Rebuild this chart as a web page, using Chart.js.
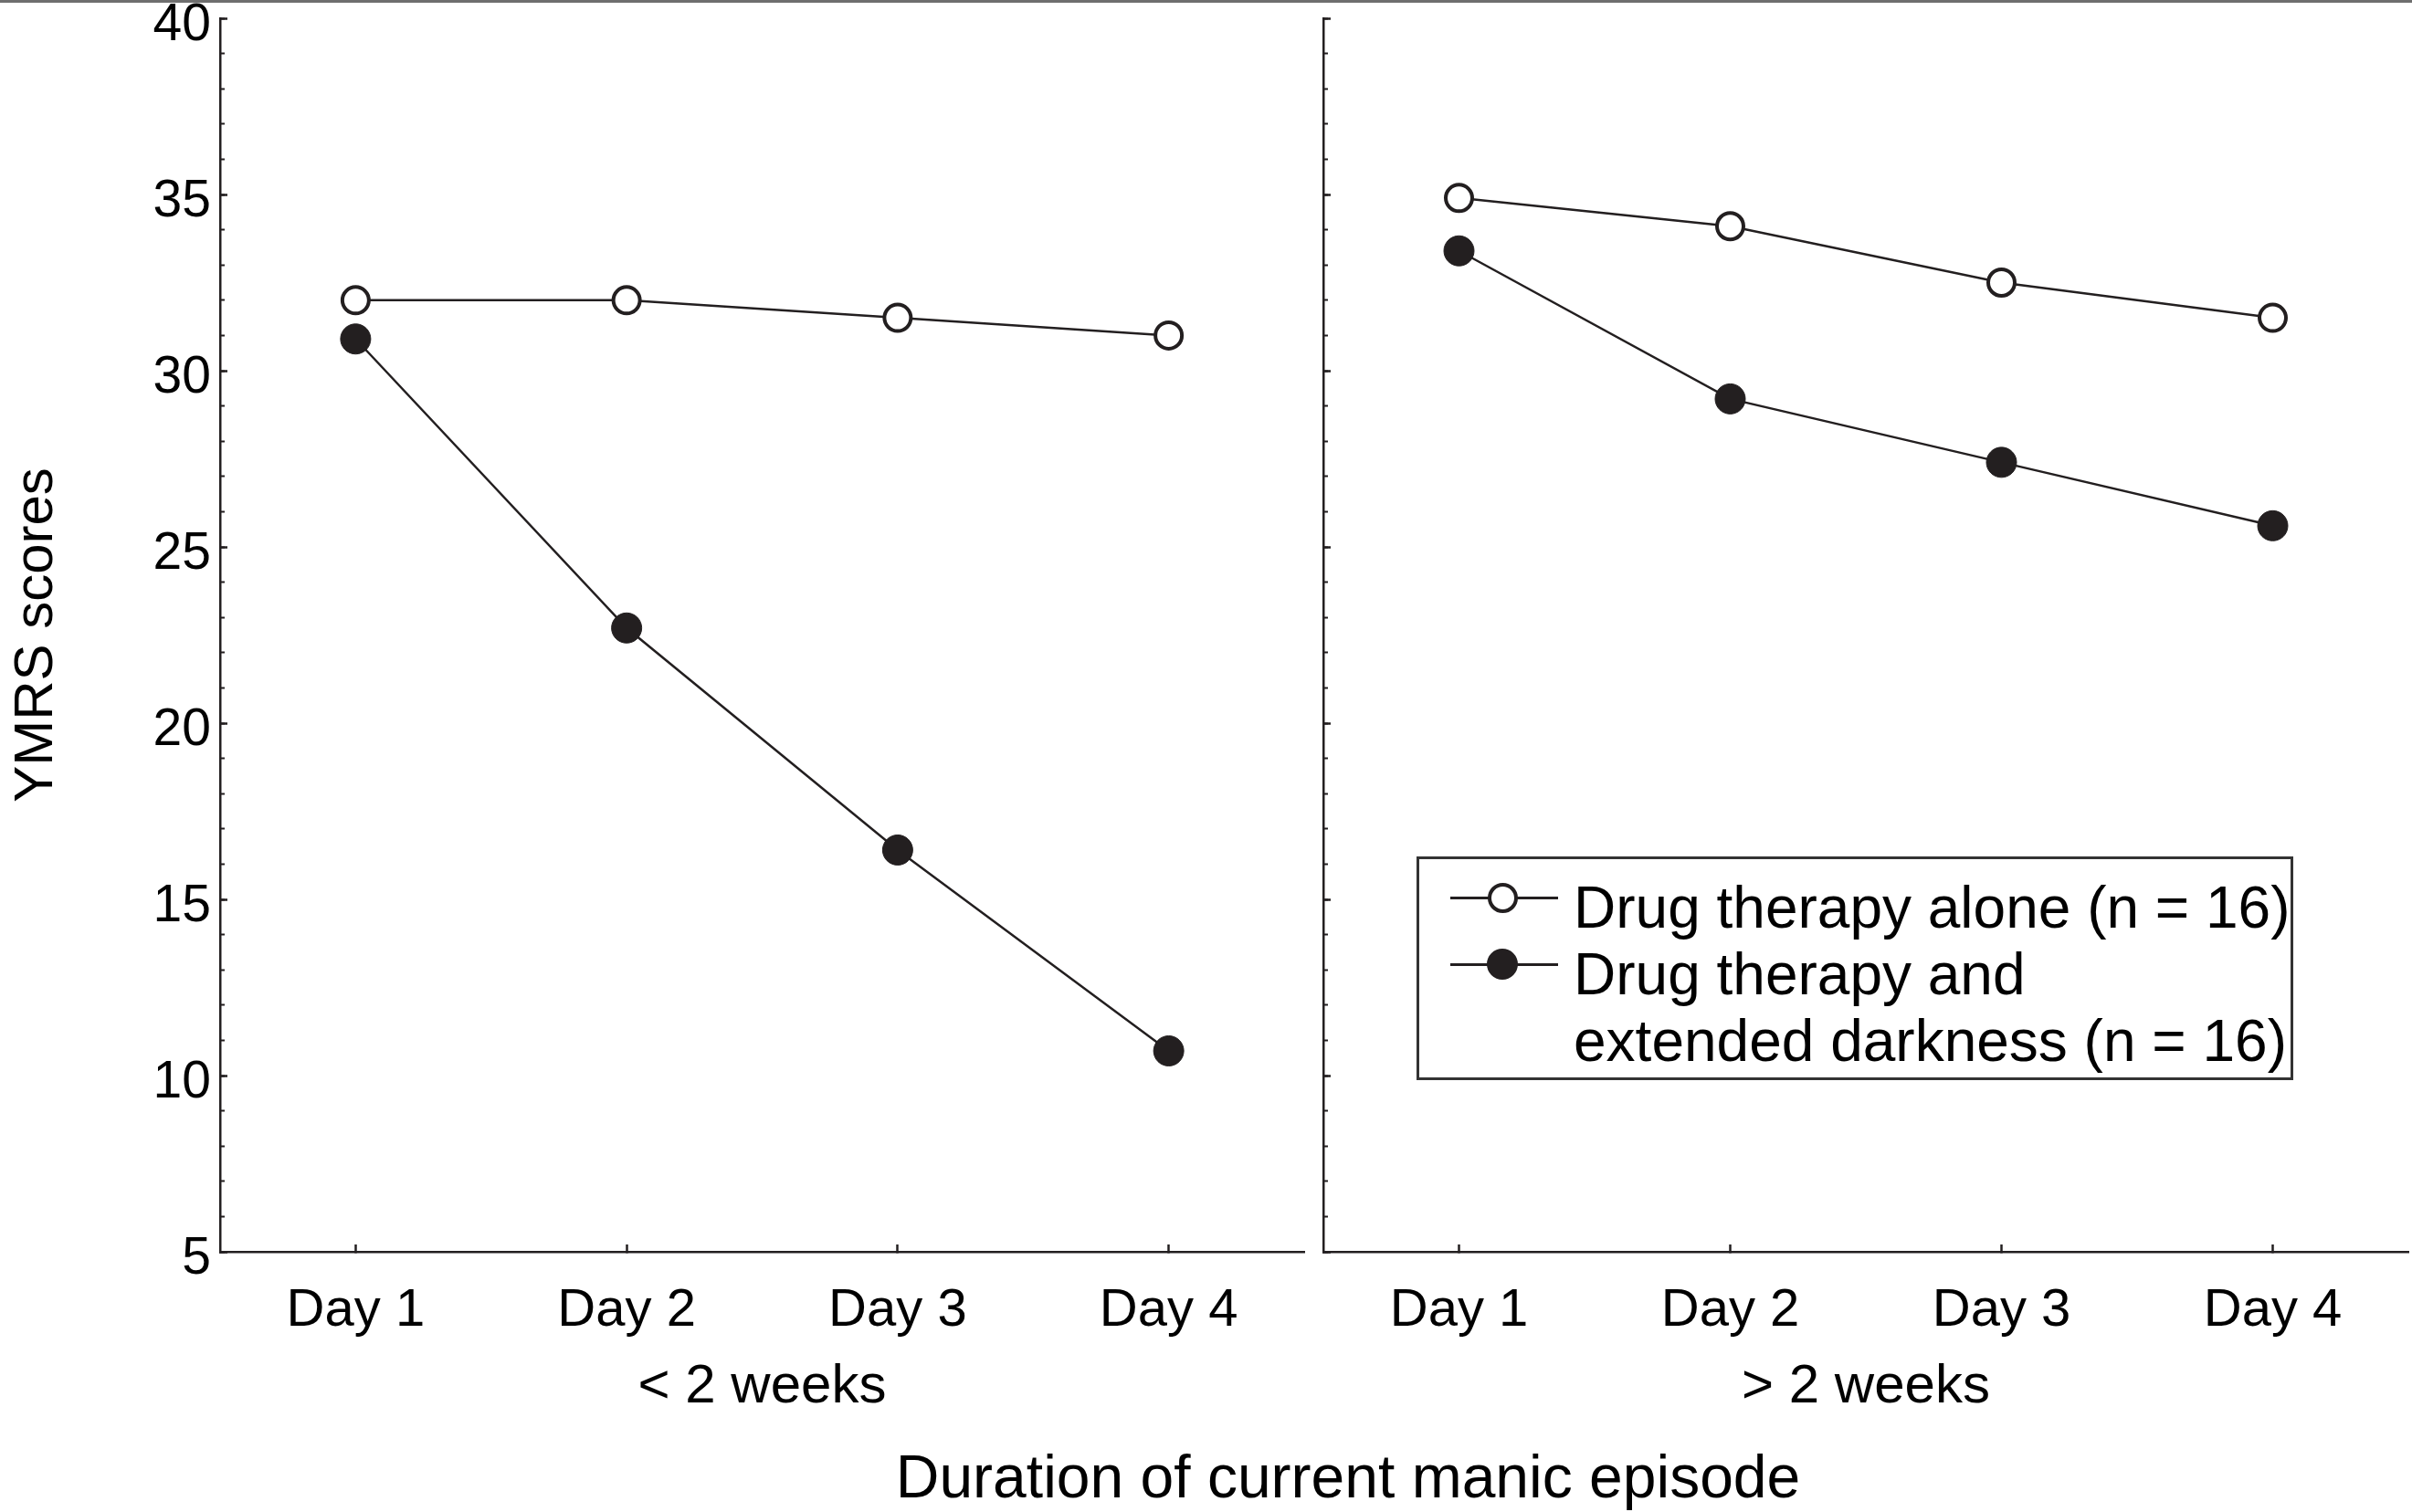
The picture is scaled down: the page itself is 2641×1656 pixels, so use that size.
<!DOCTYPE html>
<html>
<head>
<meta charset="utf-8">
<script src="https://cdn.jsdelivr.net/npm/chart.js@4.4.1/dist/chart.umd.min.js"></script>
<style>
  html, body { margin: 0; padding: 0; background: #fff; }
  body { width: 2641px; height: 1656px; position: relative; overflow: hidden;
         font-family: "Liberation Sans", Arial, Helvetica, sans-serif; color: #000; }
  #topRule { position: absolute; left: 0; top: 0; width: 2641px; height: 3px; background: #6e6e6e; }
  canvas { position: absolute; top: 0; }
  #leftCanvas { left: 0; }
  #rightCanvas { left: 1431px; }
  #xTitle { position: absolute; left: 676px; width: 1600px; top: 1577px; height: 80px;
            line-height: 80px; font-size: 66px; text-align: center; white-space: nowrap; }
  #legend { position: absolute; left: 1551px; top: 938px; width: 960px; height: 245px;
            box-sizing: border-box; border: 3px solid #333; background: #fff; }
  .legText { position: absolute; left: 169px; font-size: 64px; line-height: 73px; white-space: nowrap; }
  .legLine { position: absolute; left: 34px; width: 118px; height: 3px; background: #231f20; }
  .legDot { position: absolute; box-sizing: border-box; border-radius: 50%; }
</style>
</head>
<body>
<div id="topRule"></div>
<canvas id="leftCanvas" width="1441" height="1656"></canvas>
<canvas id="rightCanvas" width="1210" height="1656"></canvas>
<div id="xTitle"></div>
<div id="legend"></div>
<script>
// values
const days = ["Day 1", "Day 2", "Day 3", "Day 4"];
const groups = ["< 2 weeks", "> 2 weeks"];
const shortAlone = [32.0, 32.0, 31.5, 31.0];
const shortDark = [30.9, 22.7, 16.4, 10.7];
const longAlone = [34.9, 34.1, 32.5, 31.5];
const longDark = [33.4, 29.2, 27.4, 25.6];
const seriesNames = [["Drug therapy alone (n = 16)"], ["Drug therapy and", "extended darkness (n = 16)"]];
const yMin = 5;
const yMax = 40;
const yMajorStep = 5;
const yMinorStep = 1;
const yTitle = "YMRS scores";
const xTitle = "Duration of current manic episode";

const ink = "#231f20";
const fontFamily = '"Liberation Sans", Arial, Helvetica, sans-serif';
const canvasH = 1656;
const axisBottom = 1371;

function lineSet(label, values, filled) {
  return {
    label,
    data: values,
    borderColor: ink,
    borderWidth: 2.5,
    tension: 0,
    pointRadius: filled ? 16.5 : 14.5,
    pointHoverRadius: filled ? 16.5 : 14.5,
    pointBorderWidth: filled ? 1 : 4,
    pointBackgroundColor: filled ? ink : "#fff",
    pointBorderColor: ink,
  };
}

function makeChart(canvasId, alone, dark, group, opts) {
  const ctx = document.getElementById(canvasId).getContext("2d");
  return new Chart(ctx, {
    type: "line",
    data: {
      labels: days,
      datasets: [
        lineSet(seriesNames[0].join(" "), alone, false),
        lineSet(seriesNames[1].join(" "), dark, true),
      ],
    },
    options: {
      responsive: false,
      devicePixelRatio: 1,
      animation: false,
      events: [],
      layout: { autoPadding: false, padding: { left: 0, top: 20, right: opts.padRight, bottom: 0 } },
      plugins: { legend: { display: false }, tooltip: { enabled: false } },
      scales: {
        x: {
          type: "category",
          offset: true,
          grid: { drawOnChartArea: false, drawTicks: true, tickLength: -8, tickWidth: 2.5, tickColor: ink, offset: false },
          border: { display: true, color: ink, width: 2.5 },
          ticks: { color: "#000", padding: 38, font: { family: fontFamily, size: 58 }, maxRotation: 0 },
          title: { display: true, text: group, color: "#000", font: { family: fontFamily, size: 60 }, padding: { top: 0, bottom: 101 } },
          afterFit: (s) => { s.height = canvasH - axisBottom; s.paddingLeft = 0; s.paddingRight = 0; },
        },
        y: {
          position: "left",
          weight: 2,
          min: yMin,
          max: yMax,
          grid: { drawOnChartArea: false, drawTicks: true, tickLength: -8, tickWidth: 2.5, tickColor: ink },
          border: { display: true, color: ink, width: 2.5 },
          ticks: {
            display: opts.showLabels,
            stepSize: yMajorStep,
            color: "#000",
            padding: 18,
            labelOffset: 8,
            font: { family: fontFamily, size: 57 },
          },
          title: {
            display: opts.showLabels,
            text: yTitle,
            color: "#000",
            font: { family: fontFamily, size: 60 },
            padding: { top: 4, bottom: 0 },
          },
          afterFit: (s) => { s.width = opts.yWidth; s.paddingTop = 0; s.paddingBottom = 0; },
        },
        yMinor: {
          position: "left",
          weight: 1,
          min: yMin,
          max: yMax,
          grid: { drawOnChartArea: false, drawTicks: true, tickLength: -5, tickWidth: 2, tickColor: ink },
          border: { display: false },
          ticks: { display: false, stepSize: yMinorStep },
          afterFit: (s) => { s.width = 0; s.paddingTop = 0; s.paddingBottom = 0; },
        },
      },
    },
  });
}

makeChart("leftCanvas", shortAlone, shortDark, groups[0], { showLabels: true, yWidth: 241, padRight: 13 });
makeChart("rightCanvas", longAlone, longDark, groups[1], { showLabels: false, yWidth: 18, padRight: 4 });

document.getElementById("xTitle").textContent = xTitle;

// legend
const legend = document.getElementById("legend");
let row = 0;
seriesNames.forEach((lines, idx) => {
  const symY = 42 + idx * 73;
  const line = document.createElement("div");
  line.className = "legLine";
  line.style.top = (symY - 1.5) + "px";
  legend.appendChild(line);
  const dot = document.createElement("div");
  dot.className = "legDot";
  const r = idx === 0 ? 16.5 : 17;
  dot.style.left = (91 - r) + "px";
  dot.style.top = (symY - r) + "px";
  dot.style.width = dot.style.height = (2 * r) + "px";
  dot.style.background = idx === 0 ? "#fff" : ink;
  dot.style.border = idx === 0 ? "4px solid " + ink : "none";
  legend.appendChild(dot);
  lines.forEach((text) => {
    const t = document.createElement("div");
    t.className = "legText";
    t.style.top = (17 + row * 73) + "px";
    t.textContent = text;
    legend.appendChild(t);
    row += 1;
  });
});
</script>
</body>
</html>
